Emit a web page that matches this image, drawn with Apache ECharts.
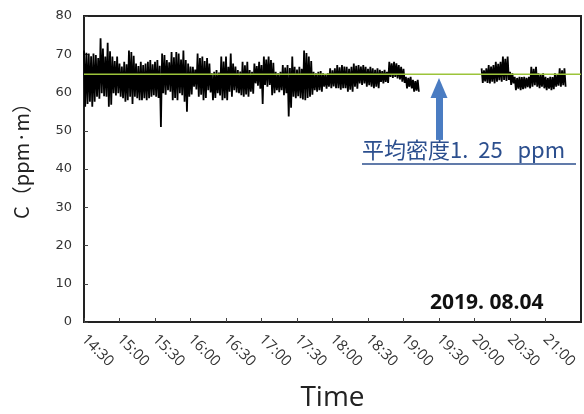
<!DOCTYPE html>
<html>
<head>
<meta charset="utf-8">
<script src="https://cdn.jsdelivr.net/npm/echarts@6/dist/echarts.min.js"></script>
<style>
  html, body { margin: 0; padding: 0; background: #fff; }
  #chart { width: 584px; height: 414px; }
</style>
</head>
<body>
<div id="chart"></div>
<script>
// 时间轴 (分钟, 从 0:00 起算)
const axisStart = 870;   // 14:30
const axisEnd = 1290;    // 21:30
const stepMin = 2;

// 第一段 14:30 起, 每 2 分钟一对 (最高, 最低)
const seg1Start = 870;
const seg1Hi = [
  71.0, 70.4, 70.2, 69.5, 70.2, 69.8, 69.0, 74.2, 71.5, 69.4,
  73.0, 70.8, 69.4, 68.2, 69.4, 67.6, 66.8, 68.0, 67.4, 71.0,
  70.6, 69.6, 67.6, 66.9, 68.0, 67.2, 67.6, 68.0, 68.5, 67.4,
  68.0, 68.5, 67.0, 70.2, 69.8, 68.5, 67.9, 70.6, 69.2, 70.6,
  70.2, 68.6, 71.0, 68.5, 67.6, 66.8, 66.7, 66.0, 70.2, 69.0,
  69.4, 68.2, 69.0, 67.6, 65.0, 65.4, 65.9, 65.2, 69.4, 68.1,
  69.4, 66.7, 70.2, 67.6, 66.8, 65.9, 65.5, 68.0, 67.1, 68.0,
  65.9, 65.4, 67.6, 66.9, 68.0, 67.2, 69.4, 68.6, 69.4, 68.5,
  67.8, 65.4, 65.0, 65.4, 67.2, 66.5, 67.2, 66.4, 69.4, 66.7,
  66.0, 66.7, 66.2, 71.0, 70.3, 69.4, 68.2, 65.4, 65.0, 65.4,
  65.6, 65.0, 64.8, 65.0, 66.3, 65.8, 66.3, 67.2, 66.6, 67.2,
  66.8, 66.7, 66.2, 66.7, 67.6, 67.0, 67.2, 66.8, 67.2, 66.7,
  66.2, 66.7, 66.3, 65.9, 66.3, 65.9, 65.6, 65.9, 65.4, 68.0,
  67.6, 68.0, 67.6, 67.2, 66.7, 66.2, 64.1, 63.8, 64.1, 63.3,
  63.0, 63.3
];
const seg1Lo = [
  56.3, 57.0, 57.6, 56.3, 57.6, 58.9, 58.4, 59.8, 59.0, 58.9,
  56.3, 56.8, 59.8, 59.2, 59.8, 58.9, 58.5, 57.6, 58.0, 58.9,
  57.0, 58.9, 58.5, 58.0, 58.0, 58.5, 58.0, 58.5, 58.9, 59.3,
  58.9, 58.6, 51.0, 59.8, 59.4, 60.6, 60.2, 58.0, 58.6, 58.0,
  59.8, 59.3, 57.6, 55.0, 58.9, 59.5, 61.5, 60.8, 58.9, 59.4,
  58.0, 58.6, 60.6, 60.0, 58.0, 58.6, 59.8, 59.2, 58.0, 58.5,
  58.0, 60.2, 58.9, 60.6, 60.0, 59.8, 59.3, 58.9, 59.5, 58.9,
  60.2, 59.7, 62.4, 61.8, 61.0, 57.0, 62.0, 61.5, 62.0, 59.3,
  59.8, 60.6, 60.1, 60.6, 59.3, 59.8, 53.7, 56.0, 58.9, 58.5,
  59.0, 58.5, 58.2, 58.0, 58.6, 58.9, 59.4, 60.6, 60.2, 60.6,
  60.2, 61.5, 61.0, 61.5, 61.1, 61.6, 61.1, 61.1, 60.7, 61.1,
  61.1, 60.2, 60.7, 60.2, 61.5, 61.0, 62.4, 62.0, 62.4, 61.5,
  61.9, 61.5, 61.1, 61.5, 61.1, 62.8, 62.4, 62.8, 62.5, 64.1,
  63.8, 64.1, 63.7, 63.4, 62.8, 62.5, 61.1, 61.5, 61.1, 60.2,
  60.5, 60.2
];

// 第二段 20:06 起
const seg2Start = 1206;
const seg2Hi = [
  66.3, 65.8, 66.3, 67.2, 66.8, 67.2, 68.0, 67.5, 68.0, 69.4,
  68.8, 69.4, 65.4, 65.0, 64.1, 63.8, 64.1, 64.0, 64.1, 63.8,
  64.1, 66.7, 66.2, 66.7, 65.0, 64.6, 65.0, 64.1, 63.8, 64.1,
  64.0, 65.0, 64.6, 66.3, 65.8, 66.3
];
const seg2Lo = [
  62.5, 62.9, 62.5, 62.4, 62.8, 62.4, 62.8, 63.2, 62.8, 63.3,
  63.0, 63.3, 62.0, 62.4, 60.6, 61.0, 60.6, 60.9, 61.1, 61.4,
  61.1, 61.5, 61.9, 61.5, 61.1, 61.5, 61.1, 60.6, 61.0, 60.6,
  60.9, 61.5, 61.8, 61.5, 61.9, 61.5
];

const meanValue = 64.8;
const arrowTime = 1170;          // 19:30
const arrowRange = [47.6, 61.2];
const noteText = '平均密度1.  25   ppm';
const dateText = '2019. 08.04';
const yName = 'C（ppm·m）';

// 把最高/最低交替排成折线
function buildSeries(start, hi, lo) {
  const out = [];
  for (let i = 0; i < hi.length; i++) {
    out.push([start + i * stepMin, hi[i]]);
    out.push([start + i * stepMin + 1, lo[i]]);
  }
  return out;
}

function fmtTime(v) {
  const h = Math.floor(v / 60);
  const m = v % 60;
  return h + ':' + String(m).padStart(2, '0');
}

const chart = echarts.init(document.getElementById('chart'));

const option = {
  animation: false,
  backgroundColor: '#fff',
  grid: {
    left: 84, right: 3, top: 16, bottom: 92,
    outerBoundsMode: 'none',
    containLabel: false,
    show: true, borderColor: '#222', borderWidth: 2
  },
  xAxis: {
    type: 'value',
    min: axisStart,
    max: axisEnd,
    interval: 30,
    name: 'Time',
    nameLocation: 'middle',
    nameGap: 62,
    nameTextStyle: { fontSize: 28, color: '#222', fontFamily: 'Open Sans' },
    axisLine: { lineStyle: { color: '#222', width: 2 } },
    axisTick: { inside: true, length: 4, lineStyle: { color: '#444' } },
    splitLine: { show: false },
    axisLabel: {
      rotate: -45,
      margin: 15,
      fontSize: 15,
      color: '#333',
      fontFamily: 'Open Sans',
      showMaxLabel: false,
      formatter: v => (v >= axisEnd ? '' : fmtTime(v))
    }
  },
  yAxis: {
    type: 'value',
    min: 0,
    max: 80,
    interval: 10,
    axisLine: { show: true, lineStyle: { color: '#222', width: 2 } },
    axisTick: { show: true, inside: true, length: 4, lineStyle: { color: '#444' } },
    splitLine: { show: false },
    axisLabel: { fontSize: 13, color: '#333', margin: 12, fontFamily: 'DejaVu Sans' }
  },
  series: [
    {
      type: 'line',
      data: buildSeries(seg1Start, seg1Hi, seg1Lo),
      showSymbol: false,
      lineStyle: { color: '#000', width: 1.8 },
      z: 2,
      markLine: {
        silent: true,
        symbol: ['none', 'triangle'],
        symbolSize: [17, 20],
        label: { show: false },
        lineStyle: { color: '#4a7cc2', width: 7, type: 'solid' },
        data: [[
          { coord: [arrowTime, arrowRange[0]] },
          { coord: [arrowTime, arrowRange[1]] }
        ]]
      }
    },
    {
      type: 'line',
      data: buildSeries(seg2Start, seg2Hi, seg2Lo),
      showSymbol: false,
      lineStyle: { color: '#000', width: 1.8 },
      z: 2
    },
    {
      type: 'line',
      data: [[axisStart, meanValue], [axisEnd, meanValue]],
      showSymbol: false,
      lineStyle: { color: '#9cc43a', width: 1.5 },
      z: 5
    }
  ],
  graphic: [
    {
      type: 'text',
      x: 21,
      y: 156,
      rotation: Math.PI / 2,
      style: {
        text: yName,
        font: '20px "Noto Sans CJK JP"',
        fill: '#222',
        align: 'center',
        verticalAlign: 'middle'
      }
    },
    {
      type: 'text',
      left: 362,
      top: 139,
      style: {
        text: noteText,
        font: '22px "Noto Sans CJK JP"',
        fill: '#2c4f8e'
      }
    },
    {
      type: 'line',
      shape: { x1: 362, y1: 164, x2: 576, y2: 164 },
      style: { stroke: '#2c4f8e', lineWidth: 1.5 }
    },
    {
      type: 'text',
      left: 430,
      top: 293,
      style: {
        text: dateText,
        font: 'bold 21px "Open Sans"',
        fill: '#111'
      }
    }
  ]
};

chart.setOption(option);
</script>
</body>
</html>
